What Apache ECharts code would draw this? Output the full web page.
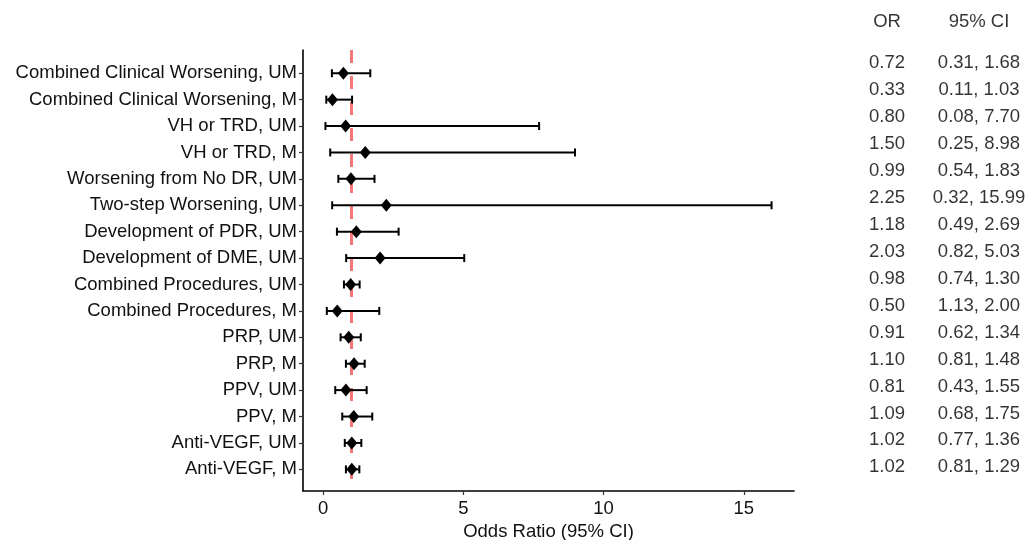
<!DOCTYPE html>
<html>
<head>
<meta charset="utf-8">
<script src="https://cdn.jsdelivr.net/npm/echarts@6/dist/echarts.min.js"></script>
<style>
  html, body { margin: 0; padding: 0; background: #fff; }
  #chart { width: 1029px; height: 540px; }
</style>
</head>
<body>
<div id="chart"></div>
<script>
// outcomes, top to bottom
const categories = [
  'Combined Clinical Worsening, UM',
  'Combined Clinical Worsening, M',
  'VH or TRD, UM',
  'VH or TRD, M',
  'Worsening from No DR, UM',
  'Two-step Worsening, UM',
  'Development of PDR, UM',
  'Development of DME, UM',
  'Combined Procedures, UM',
  'Combined Procedures, M',
  'PRP, UM',
  'PRP, M',
  'PPV, UM',
  'PPV, M',
  'Anti-VEGF, UM',
  'Anti-VEGF, M'
];
const orVals = [0.72, 0.33, 0.80, 1.50, 0.99, 2.25, 1.18, 2.03, 0.98, 0.50, 0.91, 1.10, 0.81, 1.09, 1.02, 1.02];
const ciLow  = [0.31, 0.11, 0.08, 0.25, 0.54, 0.32, 0.49, 0.82, 0.74, 0.13, 0.62, 0.81, 0.43, 0.68, 0.77, 0.81];
const ciHigh = [1.68, 1.03, 7.70, 8.98, 1.83, 15.99, 2.69, 5.03, 1.30, 2.00, 1.34, 1.48, 1.55, 1.75, 1.36, 1.29];

// text of the table on the right (as printed)
const orLabels = ['0.72', '0.33', '0.80', '1.50', '0.99', '2.25', '1.18', '2.03', '0.98', '0.50', '0.91', '1.10', '0.81', '1.09', '1.02', '1.02'];
const ciLabels = ['0.31, 1.68', '0.11, 1.03', '0.08, 7.70', '0.25, 8.98', '0.54, 1.83', '0.32, 15.99', '0.49, 2.69', '0.82, 5.03',
  '0.74, 1.30', '1.13, 2.00', '0.62, 1.34', '0.81, 1.48', '0.43, 1.55', '0.68, 1.75', '0.77, 1.36', '0.81, 1.29'];
const tableHeaders = ['OR', '95% CI'];

const xTicks = [0, 5, 10, 15];
const refValue = 1;

const FONT = '"Liberation Sans", Arial, sans-serif';
const TXT = '#111';
const rows = categories.map((_, i) => i + 1);

const chart = echarts.init(document.getElementById('chart'));

const errData = categories.map((_, i) => [ciLow[i], ciHigh[i], i + 1]);
const ptData = categories.map((_, i) => [orVals[i], i + 1]);

const headerRow = -0.545;
const tableData = [];
orLabels.forEach((t, i) => tableData.push({ value: [0, i + 1], text: t }));
ciLabels.forEach((t, i) => tableData.push({ value: [1, i + 1], text: t }));
tableHeaders.forEach((t, i) => tableData.push({ value: [i, headerRow], text: t }));

chart.setOption({
  animation: false,
  textStyle: { fontFamily: FONT },
  grid: [
    { left: 303, right: 235, top: 50, bottom: 49, outerBoundsMode: 'none' },
    { left: 887, right: 50, top: 21.7, bottom: 72.7, outerBoundsMode: 'none' }
  ],
  xAxis: [
    {
      type: 'value', min: -0.72, max: 16.79, gridIndex: 0,
      name: 'Odds Ratio (95% CI)', nameLocation: 'middle', nameGap: 27,
      nameTextStyle: { fontSize: 18.5, color: TXT, fontFamily: FONT },
      axisLine: { show: true, onZero: false, lineStyle: { color: '#000', width: 1.6 } },
      axisTick: { show: true, length: 4, customValues: xTicks, lineStyle: { color: '#333', width: 1.2 } },
      axisLabel: { customValues: xTicks, fontSize: 18.5, color: TXT, margin: 8, fontFamily: FONT },
      splitLine: { show: false }
    },
    { type: 'value', min: 0, max: 1, gridIndex: 1, show: false }
  ],
  yAxis: [
    {
      type: 'value', min: 0.12, max: 16.82, inverse: true, gridIndex: 0,
      axisLine: { show: true, onZero: false, lineStyle: { color: '#000', width: 1.6 } },
      axisTick: { show: true, length: 4, customValues: rows, lineStyle: { color: '#333', width: 1.2 } },
      axisLabel: {
        customValues: rows, fontSize: 18.5, color: TXT, margin: 6, fontFamily: FONT,
        formatter: v => categories[Math.round(v) - 1]
      },
      splitLine: { show: false }
    },
    { type: 'value', min: headerRow, max: 16, inverse: true, gridIndex: 1, show: false }
  ],
  series: [
    {
      type: 'line', data: [], z: 1, silent: true,
      markLine: {
        silent: true, symbol: 'none', animation: false, z: 1,
        label: { show: false },
        lineStyle: { color: '#f47676', width: 3, type: [13, 13] },
        data: [{ xAxis: refValue }]
      }
    },
    {
      type: 'custom', z: 2, silent: true, data: errData,
      renderItem: (params, api) => {
        const a = api.coord([api.value(0), api.value(2)]);
        const b = api.coord([api.value(1), api.value(2)]);
        const h = 4;
        const style = { stroke: '#000', lineWidth: 2 };
        return {
          type: 'group',
          children: [
            { type: 'line', shape: { x1: a[0], y1: a[1], x2: b[0], y2: b[1] }, style },
            { type: 'line', shape: { x1: a[0], y1: a[1] - h, x2: a[0], y2: a[1] + h }, style },
            { type: 'line', shape: { x1: b[0], y1: b[1] - h, x2: b[0], y2: b[1] + h }, style }
          ]
        };
      }
    },
    {
      type: 'scatter', z: 3, silent: true, data: ptData,
      symbol: 'diamond', symbolSize: [11, 13],
      itemStyle: { color: '#000', opacity: 1 }
    },
    {
      type: 'scatter', xAxisIndex: 1, yAxisIndex: 1, silent: true, clip: false,
      data: tableData, symbolSize: 1, itemStyle: { color: 'rgba(0,0,0,0)' },
      label: {
        show: true, position: 'inside', color: '#000', fontSize: 18.5, fontFamily: FONT,
        textBorderWidth: 0
      },
      labelLayout: null
    }
  ]
});
// label formatter set after so the custom text field is used
chart.setOption({
  series: [{}, {}, {}, { label: { formatter: p => p.data.text } }]
});
</script>
</body>
</html>
